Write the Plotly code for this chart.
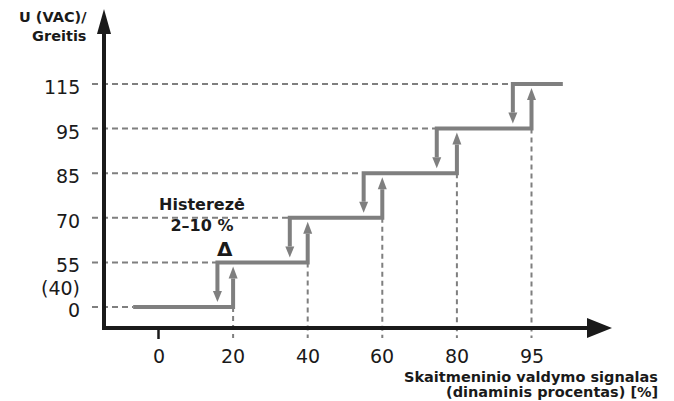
import plotly.graph_objects as go

# ---------------- data ----------------
x_tick_labels = ["0", "20", "40", "60", "80", "95"]          # digital control signal [%]
y_tick_labels = ["0", "55", "70", "85", "95", "115"]          # U (VAC) levels
y_sub_label = "(40)"                                          # secondary value under 55
step_up_x = [1, 2, 3, 4, 5]                                    # x index where level j -> j+1
hysteresis = [0.21, 0.24, 0.25, 0.27, 0.25]                   # switch-back offset (x index units)
curve_start_x = -0.34
curve_end_x = 5.42

# ---------------- geometry (page pixel scale of the drawing) ----------------
PAGE_W, PAGE_H = 674, 401
OFF = 8                      # page body margin in the browser
W, H = PAGE_W - OFF, PAGE_H - OFF
X0_PX, X_STEP_PX = 158.5, 74.6
Y0_PX, Y_STEP_PX = 307.0, 44.6


def dx(p):
    return p / X_STEP_PX


def dy(p):
    return p / Y_STEP_PX


def xpx(p):
    return (p - X0_PX) / X_STEP_PX


def ypx(p):
    return (Y0_PX - p) / Y_STEP_PX


GREY = "#7f7f7f"
BLACK = "#1a1a1a"
FONT = "DejaVu Sans"

fig = go.Figure()
shapes = []
annotations = []

n_levels = len(y_tick_labels)
down_x = [None] + [step_up_x[k] - hysteresis[k] for k in range(len(step_up_x))]

axis_x = xpx(104)
axis_y = ypx(328)
dash_left = xpx(92)
dash_bottom = ypx(338)

# dashed horizontal guides
for j in range(n_levels):
    x_end = curve_start_x if j == 0 else down_x[j]
    fig.add_trace(go.Scatter(x=[dash_left, x_end], y=[j, j], mode="lines",
                             line=dict(color=GREY, width=2, dash="6px,4px"),
                             hoverinfo="skip", showlegend=False))

# dashed vertical guides
for k, xu in enumerate(step_up_x):
    fig.add_trace(go.Scatter(x=[xu, xu], y=[k, dash_bottom], mode="lines",
                             line=dict(color=GREY, width=2, dash="5px,4px"),
                             hoverinfo="skip", showlegend=False))

# arrow head sizes
up_tip, up_len, head_half = dy(4), dy(12), dx(4.5)
dn_tip, dn_len = dy(5), dy(11)

# step polylines
for j in range(n_levels):
    xs, ys = [], []
    if j == 0:
        xs += [curve_start_x]
        ys += [0]
    else:
        xs += [down_x[j], down_x[j]]
        ys += [j - 1 + dn_tip + dn_len, j]
    if j < n_levels - 1:
        xu = step_up_x[j]
        xs += [xu, xu]
        ys += [j, j + 1 - up_tip - up_len]
    else:
        xs += [curve_end_x]
        ys += [j]
    fig.add_trace(go.Scatter(x=xs, y=ys, mode="lines",
                             line=dict(color=GREY, width=4, shape="linear"),
                             hoverinfo="skip", showlegend=False))

# arrow heads
for k, xu in enumerate(step_up_x):
    tip = k + 1 - up_tip
    base = tip - up_len
    shapes.append(dict(type="path", xref="x", yref="y",
                       path=f"M {xu - head_half},{base} L {xu + head_half},{base} L {xu},{tip} Z",
                       fillcolor=GREY, line=dict(width=0)))
    xd = down_x[k + 1]
    tip = k + dn_tip
    base = tip + dn_len
    shapes.append(dict(type="path", xref="x", yref="y",
                       path=f"M {xd - head_half},{base} L {xd + head_half},{base} L {xd},{tip} Z",
                       fillcolor=GREY, line=dict(width=0)))

# main axes with arrows
shapes.append(dict(type="line", xref="x", yref="y", x0=axis_x, x1=axis_x,
                   y0=axis_y - dy(2), y1=ypx(31), line=dict(color=BLACK, width=4)))
shapes.append(dict(type="path", xref="x", yref="y",
                   path=f"M {axis_x - dx(7)},{ypx(34)} L {axis_x + dx(7)},{ypx(34)} L {axis_x},{ypx(9)} Z",
                   fillcolor=BLACK, line=dict(width=0)))
shapes.append(dict(type="line", xref="x", yref="y", x0=axis_x - dx(2), x1=xpx(590),
                   y0=axis_y, y1=axis_y, line=dict(color=BLACK, width=4)))
shapes.append(dict(type="path", xref="x", yref="y",
                   path=f"M {xpx(587)},{axis_y + dy(10)} L {xpx(587)},{axis_y - dy(10)} L {xpx(612)},{axis_y} Z",
                   fillcolor=BLACK, line=dict(width=0)))
# tick at 0
shapes.append(dict(type="line", xref="x", yref="y", x0=0, x1=0,
                   y0=axis_y, y1=ypx(339), line=dict(color=BLACK, width=2.5)))

# tick labels
for j, lab in enumerate(y_tick_labels):
    annotations.append(dict(x=xpx(82), y=j - dy(3), text=lab, xref="x", yref="y",
                            xanchor="right", yanchor="middle", showarrow=False,
                            font=dict(family=FONT, size=19, color=BLACK)))
annotations.append(dict(x=xpx(82), y=ypx(288), text=y_sub_label, xref="x", yref="y",
                        xanchor="right", yanchor="middle", showarrow=False,
                        font=dict(family=FONT, size=19, color=BLACK)))
for i, lab in enumerate(x_tick_labels):
    annotations.append(dict(x=i, y=ypx(356), text=lab, xref="x", yref="y",
                            xanchor="center", yanchor="middle", showarrow=False,
                            font=dict(family=FONT, size=19, color=BLACK)))

# axis titles
annotations.append(dict(x=xpx(89), y=ypx(26), text="<b>U (VAC)/</b><br><b>Greitis</b>",
                        xref="x", yref="y", xanchor="right", yanchor="middle", align="right",
                        showarrow=False, font=dict(family=FONT, size=14.5, color=BLACK)))
annotations.append(dict(x=xpx(660), y=ypx(377), text="<b>Skaitmeninio valdymo signalas</b>",
                        xref="x", yref="y", xanchor="right", yanchor="middle", align="right",
                        showarrow=False, font=dict(family=FONT, size=14.5, color=BLACK)))
annotations.append(dict(x=xpx(660), y=ypx(392), text="<b>(dinaminis procentas) [%]</b>",
                        xref="x", yref="y", xanchor="right", yanchor="middle", align="right",
                        showarrow=False, font=dict(family=FONT, size=14.5, color=BLACK)))

# hysteresis note
annotations.append(dict(x=xpx(202), y=ypx(215), text="<b>Histerezė</b><br><b>2–10 %</b>",
                        xref="x", yref="y", xanchor="center", yanchor="middle", align="center",
                        showarrow=False, font=dict(family=FONT, size=16, color=BLACK)))
annotations.append(dict(x=(step_up_x[0] + down_x[1]) / 2, y=ypx(249), text="<b>Δ</b>",
                        xref="x", yref="y", xanchor="center", yanchor="middle",
                        showarrow=False, font=dict(family=FONT, size=20, color=BLACK)))

fig.update_layout(
    width=W, height=H, margin=dict(l=0, r=0, t=0, b=0),
    paper_bgcolor="white", plot_bgcolor="white",
    xaxis=dict(range=[xpx(OFF), xpx(OFF + W)], visible=False, fixedrange=True),
    yaxis=dict(range=[ypx(OFF + H), ypx(OFF)], visible=False, fixedrange=True),
    shapes=shapes, annotations=annotations, showlegend=False,
)

fig.write_html("out.html")
